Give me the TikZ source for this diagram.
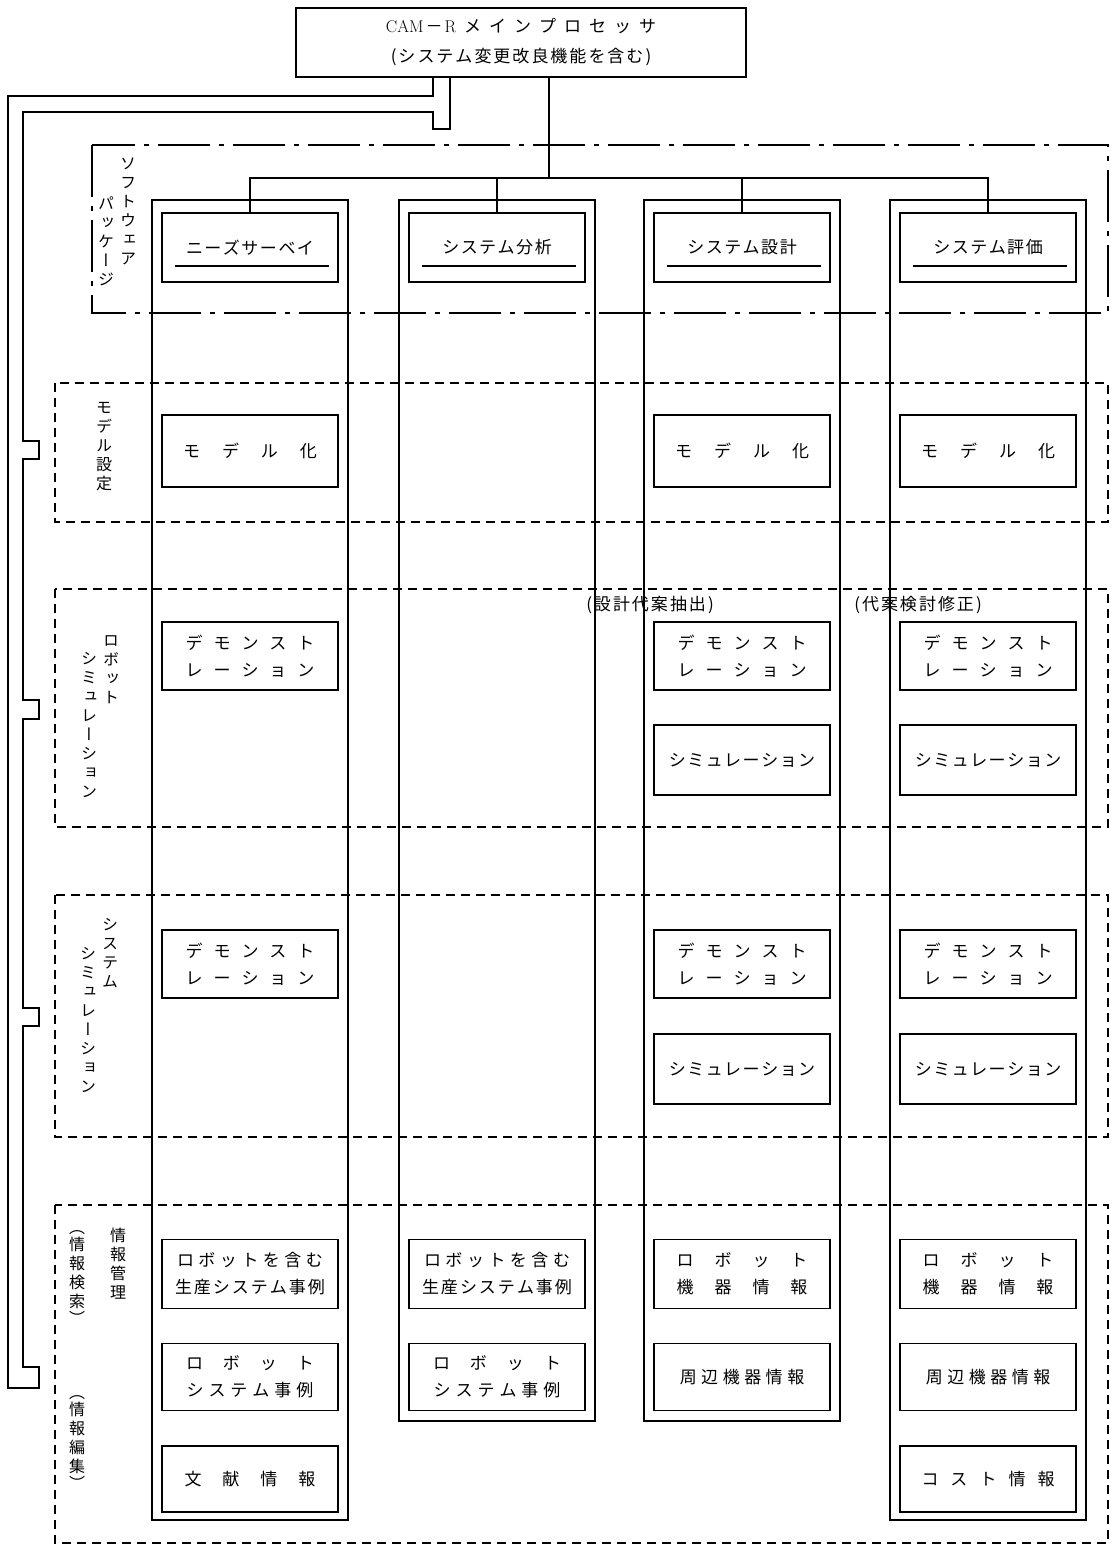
\documentclass[tikz,border=0pt]{standalone}
\usepackage{fontspec}
\newfontfamily\jp{Noto Sans CJK JP}
\newfontfamily\jptate[RawFeature=+vert]{Noto Sans CJK JP}
\usetikzlibrary{calc}
\makeatletter
\newcommand\gapped[2]{\def\gp@sep{\hspace{#1}}\gp@first#2\@nil}
\def\gp@first#1{#1\gp@next}
\def\gp@next#1{\ifx\@nil#1\else\gp@sep#1\expandafter\gp@next\fi}
\makeatother

\begin{document}
\begin{tikzpicture}[x=1pt, y=-1pt]
  \tikzset{
    wire/.style={line width=1.5pt},
    item/.style={draw, line width=1.8pt, minimum width=176pt,
      minimum height=69pt, inner sep=0pt, align=center,
      font=\jp\fontsize{17}{27}\selectfont},
    lane/.style={draw, line width=1.4pt},
    band/.style={draw, line width=1.3pt, dash pattern=on 9pt off 6pt},
    pkg/.style={draw, line width=1.4pt,
      dash pattern=on 52pt off 9pt on 5pt off 9pt},
    tate/.style={anchor=north, inner sep=0pt, align=center,
      font=\jptate\fontsize{16}{19}\selectfont},
    note/.style={inner sep=0pt, font=\jp\fontsize{17}{20}\selectfont},
  }
  \useasboundingbox (0,0) rectangle (1115,1546);
  % frames
  \draw[pkg]  (92,145) rectangle (1108,313);
  \draw[band] (55,383) rectangle (1108,522);
  \draw[band] (55,589) rectangle (1108,827);
  \draw[band] (55,895) rectangle (1108,1137);
  \draw[band] (55,1205) rectangle (1108,1543);
  \draw[lane] (152,200) rectangle (348,1520);
  \draw[lane] (399,200) rectangle (595,1421);
  \draw[lane] (644,200) rectangle (840,1421);
  \draw[lane] (890,200) rectangle (1086,1520);
  % Main processor
  \node[item, minimum width=450pt, font=\jp\fontsize{17}{30}\selectfont]
    (top) at (521,42.5)
    {{\rmfamily CAM}\hspace{2pt}－\hspace{2pt}{\rmfamily R}\hspace{8pt}%
     \gapped{8pt}{メインプロセッサ}\\
     \gapped{2pt}{(システム変更改良機能を含む)}};
  % Package headers
  \node[item] (h1) at (250,247.5) {\gapped{1.5pt}{ニーズサーベイ}};
  \node[item] (h2) at (497,247.5) {\gapped{1.5pt}{システム分析}};
  \node[item] (h3) at (742,247.5) {\gapped{1.5pt}{システム設計}};
  \node[item] (h4) at (988,247.5) {\gapped{1.5pt}{システム評価}};
  \foreach \h in {h1,h2,h3,h4}
    \draw[wire] ($(\h.south west)+(14,-17)$) -- ($(\h.south east)+(-10,-17)$);
  % Model
  \node[item, minimum height=72pt] (m1) at (250,451) {\gapped{22pt}{モデル化}};
  \node[item, minimum height=72pt] (m3) at (742,451) {\gapped{22pt}{モデル化}};
  \node[item, minimum height=72pt] (m4) at (988,451) {\gapped{22pt}{モデル化}};
  % Robot simulation
  \node[item, minimum height=68pt] (rd1) at (250,656)
    {\gapped{11pt}{デモンスト}\\\gapped{11pt}{レーション}};
  \node[item, minimum height=68pt] (rd3) at (742,656)
    {\gapped{11pt}{デモンスト}\\\gapped{11pt}{レーション}};
  \node[item, minimum height=68pt] (rd4) at (988,656)
    {\gapped{11pt}{デモンスト}\\\gapped{11pt}{レーション}};
  \node[item, minimum height=70pt] (rs3) at (742,760) {\gapped{1.5pt}{シミュレーション}};
  \node[item, minimum height=70pt] (rs4) at (988,760) {\gapped{1.5pt}{シミュレーション}};
  \node[note] (alt3) at (650,605) {\gapped{2pt}{(設計代案抽出)}};
  \node[note] (alt4) at (918,605) {\gapped{2pt}{(代案検討修正)}};
  % System simulation
  \node[item, minimum height=68pt] (sd1) at (250,964)
    {\gapped{11pt}{デモンスト}\\\gapped{11pt}{レーション}};
  \node[item, minimum height=68pt] (sd3) at (742,964)
    {\gapped{11pt}{デモンスト}\\\gapped{11pt}{レーション}};
  \node[item, minimum height=68pt] (sd4) at (988,964)
    {\gapped{11pt}{デモンスト}\\\gapped{11pt}{レーション}};
  \node[item, minimum height=70pt] (ss3) at (742,1069) {\gapped{1.5pt}{シミュレーション}};
  \node[item, minimum height=70pt] (ss4) at (988,1069) {\gapped{1.5pt}{シミュレーション}};
  % Information
  \node[item] (i11) at (250,1274)
    {\gapped{4.5pt}{ロボットを含む}\\\gapped{2pt}{生産システム事例}};
  \node[item, minimum height=67pt] (i12) at (250,1377)
    {\gapped{20pt}{ロボット}\\\gapped{5pt}{システム事例}};
  \node[item, minimum height=66pt] (i13) at (250,1479) {\gapped{21pt}{文献情報}};
  \node[item] (i21) at (497,1274)
    {\gapped{4.5pt}{ロボットを含む}\\\gapped{2pt}{生産システム事例}};
  \node[item, minimum height=67pt] (i22) at (497,1377)
    {\gapped{20pt}{ロボット}\\\gapped{5pt}{システム事例}};
  \node[item] (i31) at (742,1274)
    {\gapped{21pt}{ロボット}\\\gapped{21pt}{機器情報}};
  \node[item, minimum height=67pt] (i32) at (742,1377) {\gapped{4.5pt}{周辺機器情報}};
  \node[item] (i41) at (988,1274)
    {\gapped{21pt}{ロボット}\\\gapped{21pt}{機器情報}};
  \node[item, minimum height=67pt] (i42) at (988,1377) {\gapped{4.5pt}{周辺機器情報}};
  \node[item, minimum height=66pt] (i43) at (988,1479) {\gapped{12pt}{コスト情報}};
  % Side labels
  \node[tate] (lpkg1) at (128,158) {ソ\\フ\\ト\\ウ\\ェ\\ア};
  \node[tate] (lpkg2) at (106,197) {パ\\ッ\\ケ\\ー\\ジ};
  \node[tate] (lmod)  at (104,402) {モ\\デ\\ル\\設\\定};
  \node[tate] (lrob1) at (111,635) {ロ\\ボ\\ッ\\ト};
  \node[tate] (lrob2) at (89,652)  {シ\\ミ\\ュ\\レ\\ー\\シ\\ョ\\ン};
  \node[tate] (lsys1) at (110,918) {シ\\ス\\テ\\ム};
  \node[tate] (lsys2) at (88,947)  {シ\\ミ\\ュ\\レ\\ー\\シ\\ョ\\ン};
  \node[tate] (linf)  at (118,1228) {情\\報\\管\\理};
  \node[tate] (lsrch) at (77,1230) {（\\[-2pt]情\\報\\検\\索\\[-2pt]）};
  \node[tate] (ledit) at (77,1395) {（\\[-2pt]情\\報\\編\\集\\[-2pt]）};
  % Connectors
  \coordinate (trunk) at (549,178);
  \draw[wire] (top.south -| trunk) -- (trunk);
  \draw[wire] (h1.north) |- (trunk) -| (h4.north);
  \draw[wire] (h2.north) -- (h2.north |- trunk);
  \draw[wire] (h3.north) -- (h3.north |- trunk);
  % Bus to the bands
  \coordinate (busA) at (433,96);
  \coordinate (busB) at (450,129);
  \draw[wire] (top.south -| busA) -- (busA) -- (8,96) -- (8,1388)
    -- (39,1388) -- (39,1367) -- (23,1367)
    -- (23,1026) -- (39,1026) -- (39,1008) -- (23,1008)
    -- (23,719) -- (39,719) -- (39,700) -- (23,700)
    -- (23,459) -- (39,459) -- (39,441) -- (23,441)
    -- (23,112) -- (433,112) -- (433,129) -- (busB) -- (top.south -| busB);
\end{tikzpicture}
\end{document}
